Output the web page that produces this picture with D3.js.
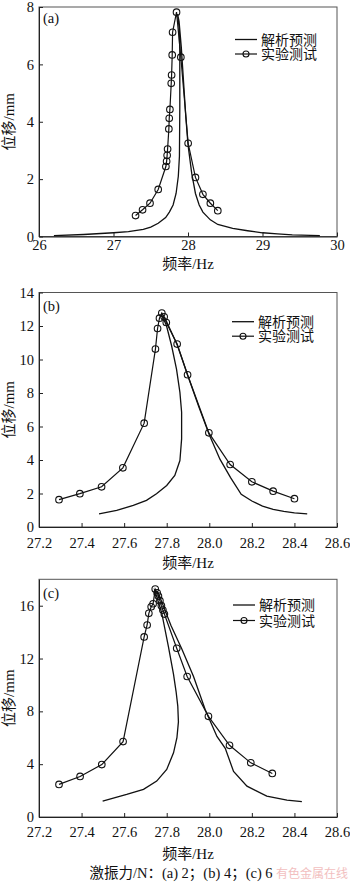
<!DOCTYPE html>
<html><head><meta charset="utf-8">
<script src="https://cdn.jsdelivr.net/npm/d3@7"></script>
<style>body{margin:0;background:#fff}svg{display:block}</style>
</head><body>
<script>
// ---------- data ----------
// Panel (a): excitation 2 N
const aExpF = [27.296,27.39,27.49,27.60,27.703,27.713,27.72,27.726,27.743,27.748,27.757,27.775,27.78,27.788,27.793,27.846,27.904,28.002,28.10,28.20,28.30,28.40];
const aExpY = [0.73,0.93,1.16,1.64,2.44,2.62,2.83,3.05,3.75,4.12,4.43,5.34,5.63,6.33,7.12,7.82,6.25,3.25,2.06,1.47,1.16,0.90];
const aAnaF = [26.2,26.6,27.0,27.2,27.4,27.5,27.6,27.7,27.75,27.8,27.84,27.87,27.885,27.89,27.89,27.88,27.86,27.88,27.91,27.94,27.97,28.0,28.05,28.1,28.15,28.2,28.3,28.4,28.6,28.8,29.0,29.2,29.4,29.77];
const aAnaY = [0.03,0.07,0.13,0.17,0.25,0.33,0.46,0.66,0.85,1.1,1.5,2.1,2.8,4.5,6.5,7.3,7.75,7.5,6.6,5.4,4.2,3.2,2.2,1.5,1.1,0.85,0.58,0.42,0.28,0.2,0.13,0.09,0.06,0.03];
// Panel (b): excitation 4 N
const bExpF = [27.294,27.392,27.494,27.594,27.694,27.747,27.757,27.766,27.777,27.788,27.798,27.849,27.898,27.998,28.098,28.20,28.30,28.40];
const bExpY = [1.63,1.99,2.40,3.53,6.20,10.62,11.85,12.47,12.77,12.55,12.21,10.92,9.09,5.62,3.73,2.70,2.14,1.69];
const bAnaF = [27.482,27.565,27.643,27.705,27.752,27.80,27.838,27.862,27.870,27.870,27.862,27.846,27.823,27.799,27.780,27.791,27.85,27.90,27.95,28.0,28.05,28.10,28.15,28.20,28.25,28.30,28.35,28.40,28.46];
const bAnaY = [0.79,0.99,1.29,1.59,1.99,2.48,3.08,3.97,5.26,6.85,8.04,9.43,10.82,12.01,12.57,12.5,10.85,9.0,7.2,5.5,4.05,2.95,1.95,1.55,1.25,1.05,0.93,0.84,0.78];
// Panel (c): excitation 6 N
const cExpF = [27.294,27.393,27.495,27.595,27.694,27.708,27.716,27.727,27.736,27.746,27.755,27.761,27.768,27.775,27.782,27.789,27.847,27.896,27.996,28.095,28.195,28.296];
const cExpY = [2.47,3.07,3.97,5.71,13.64,14.54,15.42,15.92,16.15,17.26,16.98,16.73,16.38,16.0,15.67,15.37,12.78,10.64,7.62,5.43,4.10,3.30];
const cAnaF = [27.499,27.612,27.691,27.753,27.80,27.832,27.848,27.855,27.852,27.844,27.832,27.808,27.777,27.744,27.761,27.82,27.871,27.926,27.981,28.036,28.075,28.114,28.177,28.27,28.365,28.435];
const cAnaY = [1.21,1.71,2.09,2.72,3.6,4.86,6.0,7.2,8.4,9.5,10.8,12.9,15.42,17.18,16.94,14.5,12.73,10.64,8.13,6.1,5.2,3.45,2.34,1.58,1.28,1.16];
// axis ticks and labels
const aXTicks = [26,27,28,29,30];
const aYTicks = [0,2,4,6,8];
const bcXTicks = [27.2,27.4,27.6,27.8,28.0,28.2,28.4,28.6];
const bYTicks = [0,2,4,6,8,10,12,14];
const cYTicks = [0,4,8,12,16];
const panelLabels = ["(a)","(b)","(c)"];
const legendLabels = ["解析预测","实验测试"];
const xTitle = "频率/Hz";
const yTitle = "位移/mm";
const caption = "激振力/N：(a) 2；(b) 4；(c) 6";
const watermark = "有色金属在线";
</script>
<script>
const W = 350, H = 886;
const serif = "Liberation Serif, Times New Roman, Noto Sans CJK SC, serif";
const svg = d3.select("body").append("svg").attr("width", W).attr("height", H)
  .style("font-family", serif);

const panels = [
  {label: panelLabels[0], xF: aExpF, yE: aExpY, xA: aAnaF, yA: aAnaY,
   xd: [26,30], yd: [0,8], xt: aXTicks, yt: aYTicks, fmt: d3.format("d"),
   top: 7, bottom: 236.5, lab: 23, leg: [39.5,54], legX: 235, xtOff: 3, xTitleY: 269},
  {label: panelLabels[1], xF: bExpF, yE: bExpY, xA: bAnaF, yA: bAnaY,
   xd: [27.2,28.6], yd: [0,14], xt: bcXTicks, yt: bYTicks, fmt: d3.format(".1f"),
   top: 292.5, bottom: 527, lab: 311, leg: [321.7,336.2], legX: 232, xtOff: 10.5, xTitleY: 568},
  {label: panelLabels[2], xF: cExpF, yE: cExpY, xA: cAnaF, yA: cAnaY,
   xd: [27.2,28.6], yd: [0,18], xt: bcXTicks, yt: cYTicks, fmt: d3.format(".1f"),
   top: 579.3, bottom: 817, lab: 598, leg: [605,620.5], legX: 233, xtOff: 10, xTitleY: 859}
];

const L = 39, R = 337;
panels.forEach(p => {
  const x = d3.scaleLinear().domain(p.xd).range([L, R]);
  const y = d3.scaleLinear().domain(p.yd).range([p.bottom, p.top]);
  const g = svg.append("g");

  g.append("rect").attr("x", L).attr("y", p.top).attr("width", R - L).attr("height", p.bottom - p.top)
    .attr("fill", "none").attr("stroke", "#555").attr("stroke-width", 1);

  const xa = g.append("g").attr("transform", `translate(0,${p.bottom})`)
    .call(d3.axisBottom(x).tickValues(p.xt).tickFormat(p.fmt).tickSizeInner(-4).tickSizeOuter(0).tickPadding(p.xtOff));
  xa.attr("font-family", serif);
  xa.select(".domain").attr("stroke", "#222");
  xa.selectAll("text").attr("font-size", 14.5).attr("fill", "#111");
  xa.selectAll("line").attr("stroke", "#222");

  const ya = g.append("g").attr("transform", `translate(${L},0)`)
    .call(d3.axisLeft(y).tickValues(p.yt).tickFormat(d3.format("d")).tickSizeInner(-4).tickSizeOuter(0).tickPadding(5));
  ya.attr("font-family", serif);
  ya.select(".domain").attr("stroke", "#222");
  ya.selectAll("text").attr("font-size", 14.5).attr("fill", "#111");
  ya.selectAll("line").attr("stroke", "#222");

  g.append("text").attr("x", (L + R) / 2).attr("y", p.xTitleY).attr("text-anchor", "middle")
    .attr("font-size", 15).attr("fill", "#111").text(xTitle);
  g.append("text").attr("transform", `translate(14,${(p.top + p.bottom) / 2}) rotate(-90)`)
    .attr("text-anchor", "middle").attr("font-size", 15).attr("fill", "#111").text(yTitle);
  g.append("text").attr("x", 43).attr("y", p.lab).attr("font-size", 14.5).attr("fill", "#111").text(p.label);

  const line = d3.line().x(d => x(d[0])).y(d => y(d[1]));
  const ana = p.xA.map((f, i) => [f, p.yA[i]]);
  const exp = p.xF.map((f, i) => [f, p.yE[i]]);
  g.append("path").datum(ana).attr("d", line).attr("fill", "none").attr("stroke", "#111").attr("stroke-width", 1.3);
  g.append("path").datum(exp).attr("d", line).attr("fill", "none").attr("stroke", "#111").attr("stroke-width", 1.2);
  g.selectAll("circle.e").data(exp).join("circle").attr("class", "e")
    .attr("cx", d => x(d[0])).attr("cy", d => y(d[1])).attr("r", 3.3)
    .attr("fill", "none").attr("stroke", "#111").attr("stroke-width", 1.1);

  const lg = g.append("g");
  lg.append("line").attr("x1", p.legX).attr("x2", p.legX + 22).attr("y1", p.leg[0]).attr("y2", p.leg[0])
    .attr("stroke", "#111").attr("stroke-width", 1.3);
  lg.append("line").attr("x1", p.legX).attr("x2", p.legX + 22).attr("y1", p.leg[1]).attr("y2", p.leg[1])
    .attr("stroke", "#111").attr("stroke-width", 1.2);
  lg.append("circle").attr("cx", p.legX + 11).attr("cy", p.leg[1]).attr("r", 3)
    .attr("fill", "none").attr("stroke", "#111").attr("stroke-width", 1.1);
  legendLabels.forEach((t, i) => {
    lg.append("text").attr("x", p.legX + 26).attr("y", p.leg[i]).attr("dy", "0.36em")
      .attr("font-size", 14).attr("fill", "#111").text(t);
  });
});

svg.append("text").attr("x", 181).attr("y", 878).attr("text-anchor", "middle")
  .attr("font-size", 14.5).attr("fill", "#111").text(caption);
svg.append("text").attr("x", 276).attr("y", 878)
  .attr("font-size", 12).attr("fill", "#f0b0b0").attr("opacity", 0.8).text(watermark);
</script>
</body></html>
